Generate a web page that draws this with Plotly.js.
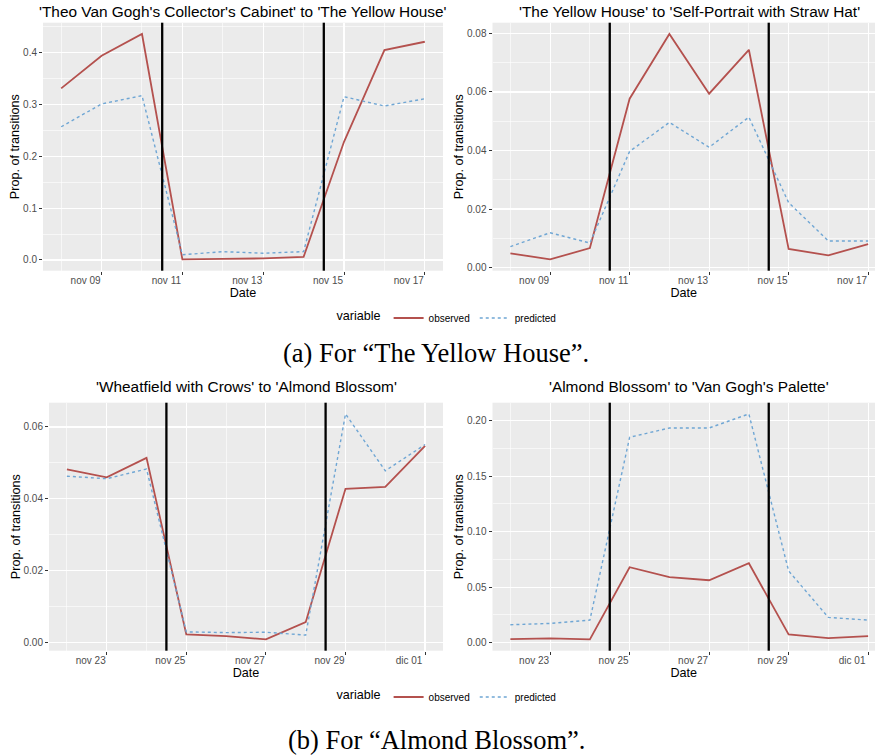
<!DOCTYPE html>
<html>
<head>
<meta charset="utf-8">
<script src="https://cdn.plot.ly/plotly-3.0.1.min.js"></script>
<style>html,body{margin:0;padding:0;background:#fff;}#chart{width:875px;height:756px;}</style>
</head>
<body>
<div id="chart"></div>
<script>
// ---------- data ----------
const datesA = ['2018-11-08','2018-11-09','2018-11-10','2018-11-11','2018-11-12','2018-11-13','2018-11-14','2018-11-15','2018-11-16','2018-11-17'];
const datesB = ['2018-11-22','2018-11-23','2018-11-24','2018-11-25','2018-11-26','2018-11-27','2018-11-28','2018-11-29','2018-11-30','2018-12-01'];

const tickValsA = ['2018-11-09','2018-11-11','2018-11-13','2018-11-15','2018-11-17'];
const tickTextA = ['nov 09','nov 11','nov 13','nov 15','nov 17'];
const tickValsB = ['2018-11-23','2018-11-25','2018-11-27','2018-11-29','2018-12-01'];
const tickTextB = ['nov 23','nov 25','nov 27','nov 29','dic 01'];

const cutsA = ['2018-11-10 12:00','2018-11-14 12:00'];
const cutsB = ['2018-11-24 12:00','2018-11-28 12:00'];

const titleA1 = "'Theo Van Gogh's Collector's Cabinet' to 'The Yellow House'";
const titleA2 = "'The Yellow House' to 'Self-Portrait with Straw Hat'";
const titleB1 = "'Wheatfield with Crows' to 'Almond Blossom'";
const titleB2 = "'Almond Blossom' to 'Van Gogh's Palette'";

const observedA1  = [0.331, 0.394, 0.436, 0.001, 0.002, 0.003, 0.006, 0.228, 0.405, 0.421];
const predictedA1 = [0.257, 0.301, 0.317, 0.010, 0.016, 0.013, 0.016, 0.315, 0.297, 0.311];

const observedA2  = [0.0049, 0.0028, 0.0067, 0.0577, 0.0798, 0.0594, 0.0744, 0.0064, 0.0042, 0.0080];
const predictedA2 = [0.0072, 0.0119, 0.0084, 0.0397, 0.0496, 0.0411, 0.0514, 0.0222, 0.0091, 0.0091];

const observedB1  = [0.0482, 0.0460, 0.0514, 0.0023, 0.0018, 0.0009, 0.0057, 0.0428, 0.0433, 0.0547];
const predictedB1 = [0.0463, 0.0456, 0.0483, 0.0030, 0.0028, 0.0029, 0.0021, 0.0636, 0.0478, 0.0551];

const observedB2  = [0.0033, 0.0039, 0.0030, 0.0680, 0.0590, 0.0563, 0.0716, 0.0075, 0.0042, 0.0060];
const predictedB2 = [0.0162, 0.0174, 0.0204, 0.1850, 0.1934, 0.1934, 0.2060, 0.0647, 0.0228, 0.0204];

const seriesNames = ['observed', 'predicted'];
const legendTitle = 'variable';
const captionA = '(a) For \u201CThe Yellow House\u201D.';
const captionB = '(b) For \u201CAlmond Blossom\u201D.';

// ---------- styling / layout helpers ----------
const W = 875, H = 756;
const OBS_COLOR = '#b4514e';
const PRED_COLOR = '#6fa6d4';
const FONT = 'Liberation Sans, Arial, Helvetica, sans-serif';
const px2x = p => p / W;
const px2y = p => 1 - p / H;

function toStr(ms){ return new Date(ms).toISOString().replace('T',' ').replace('Z',''); }
function xRange(dates, clip){
  const t0 = Date.parse(dates[0] + 'T00:00:00Z');
  const t1 = Date.parse(dates[dates.length-1] + 'T00:00:00Z');
  const pad = 0.05 * (t1 - t0);
  const lo = t0 - pad;
  let hi = t1 + pad;
  if (clip) hi = lo + (hi - lo) * clip;
  return [toStr(lo), toStr(hi)];
}
function yRange(a, b){
  const all = a.concat(b);
  const mn = Math.min.apply(null, all), mx = Math.max.apply(null, all);
  const pad = 0.05 * (mx - mn);
  return [mn - pad, mx + pad];
}

const CLIP = 382.5 / 393.5;
const panels = [
  {dates: datesA, obs: observedA1, pred: predictedA1, ticks: [tickValsA, tickTextA], cuts: cutsA, title: titleA1,
   dom: [43, 443, 22.7, 270.7], clip: null, dy: 0.1, fmt: '.1f', legend: 'legend', showLeg: true, titleY: 12},
  {dates: datesA, obs: observedA2, pred: predictedA2, ticks: [tickValsA, tickTextA], cuts: cutsA, title: titleA2,
   dom: [492.5, 875, 22.7, 270.7], clip: CLIP, dy: 0.02, fmt: '.2f', legend: 'legend', showLeg: false, titleY: 12},
  {dates: datesB, obs: observedB1, pred: predictedB1, ticks: [tickValsB, tickTextB], cuts: cutsB, title: titleB1,
   dom: [49, 443, 402.7, 650.7], clip: null, dy: 0.02, fmt: '.2f', legend: 'legend2', showLeg: true, titleY: 387},
  {dates: datesB, obs: observedB2, pred: predictedB2, ticks: [tickValsB, tickTextB], cuts: cutsB, title: titleB2,
   dom: [492.5, 875, 402.7, 650.7], clip: CLIP, dy: 0.05, fmt: '.2f', legend: 'legend2', showLeg: false, titleY: 387}
];

const traces = [];
const shapes = [];
const annotations = [];
const layout = {
  width: W, height: H,
  margin: {l: 0, r: 0, t: 0, b: 0},
  paper_bgcolor: '#ffffff',
  plot_bgcolor: '#ebebeb',
  font: {family: FONT, color: '#000'},
  showlegend: true,
  hovermode: false
};

panels.forEach((p, i) => {
  const n = i + 1;
  const xa = n === 1 ? 'x' : 'x' + n;
  const ya = n === 1 ? 'y' : 'y' + n;
  const xKey = n === 1 ? 'xaxis' : 'xaxis' + n;
  const yKey = n === 1 ? 'yaxis' : 'yaxis' + n;

  traces.push({
    type: 'scatter', mode: 'lines', x: p.dates, y: p.obs, xaxis: xa, yaxis: ya,
    name: seriesNames[0], legend: p.legend, showlegend: p.showLeg, legendgroup: p.legend + 'obs',
    line: {color: OBS_COLOR, width: 1.8}
  });
  traces.push({
    type: 'scatter', mode: 'lines', x: p.dates, y: p.pred, xaxis: xa, yaxis: ya,
    name: seriesNames[1], legend: p.legend, showlegend: p.showLeg, legendgroup: p.legend + 'pred',
    line: {color: PRED_COLOR, width: 1.4, dash: 'dot'}
  });

  layout[xKey] = {
    domain: [px2x(p.dom[0]), px2x(p.dom[1])],
    anchor: ya, type: 'date',
    range: xRange(p.dates, p.clip),
    tickmode: 'array', tickvals: p.ticks[0], ticktext: p.ticks[1],
    ticks: 'outside', ticklen: 3, tickwidth: 1, tickcolor: '#333333',
    ticklabelshift: -16, ticklabelstandoff: -3,
    tickfont: {size: 10, color: '#4d4d4d', family: FONT},
    showgrid: true, gridcolor: '#ffffff', gridwidth: 1.2,
    minor: {tickmode: 'linear', tick0: p.dates[0], dtick: 2 * 86400000, showgrid: true, gridcolor: '#ffffff', gridwidth: 0.6, ticks: ''},
    zeroline: false, showline: false, fixedrange: true,
    title: {text: 'Date', font: {size: 12.6, color: '#000', family: FONT}, standoff: 1}
  };
  layout[yKey] = {
    domain: [px2y(p.dom[3]), px2y(p.dom[2])],
    anchor: xa,
    range: yRange(p.obs, p.pred),
    tickmode: 'linear', tick0: 0, dtick: p.dy, tickformat: p.fmt,
    ticks: 'outside', ticklen: 3, tickwidth: 1, tickcolor: '#333333',
    tickfont: {size: 10, color: '#4d4d4d', family: FONT},
    showgrid: true, gridcolor: '#ffffff', gridwidth: 1.2,
    minor: {dtick: p.dy / 2, tick0: 0, showgrid: true, gridcolor: '#ffffff', gridwidth: 0.6, ticks: ''},
    zeroline: false, showline: false, fixedrange: true,
    title: {text: 'Prop. of transitions', font: {size: 12.6, color: '#000', family: FONT}, standoff: 0}
  };

  p.cuts.forEach(c => {
    shapes.push({type: 'line', xref: xa, yref: ya + ' domain', x0: c, x1: c, y0: 0, y1: 1,
      line: {color: '#000000', width: 2.3}, layer: 'above'});
  });

  annotations.push({
    xref: xa + ' domain', yref: 'paper', x: p.clip ? 0.5 / p.clip : 0.5, y: px2y(p.titleY),
    xanchor: 'center', yanchor: 'middle', showarrow: false,
    text: p.title, font: {size: 15.4, color: '#000', family: FONT}
  });
});

layout.legend = {
  orientation: 'h', x: px2x(448), y: px2y(318), xanchor: 'center', yanchor: 'middle',
  title: {text: legendTitle, side: 'left', font: {size: 12.6, color: '#000', family: FONT}},
  font: {size: 10, color: '#000', family: FONT}, itemwidth: 30, bgcolor: 'rgba(0,0,0,0)'
};
layout.legend2 = {
  orientation: 'h', x: px2x(448), y: px2y(697), xanchor: 'center', yanchor: 'middle',
  title: {text: legendTitle, side: 'left', font: {size: 12.6, color: '#000', family: FONT}},
  font: {size: 10, color: '#000', family: FONT}, itemwidth: 30, bgcolor: 'rgba(0,0,0,0)'
};

annotations.push({xref: 'paper', yref: 'paper', x: px2x(436), y: px2y(353), xanchor: 'center', yanchor: 'middle',
  showarrow: false, text: captionA, font: {size: 26.5, color: '#000', family: 'Liberation Serif, Times New Roman, serif'}});
annotations.push({xref: 'paper', yref: 'paper', x: px2x(436), y: px2y(740), xanchor: 'center', yanchor: 'middle',
  showarrow: false, text: captionB, font: {size: 26.5, color: '#000', family: 'Liberation Serif, Times New Roman, serif'}});

layout.shapes = shapes;
layout.annotations = annotations;

Plotly.newPlot('chart', traces, layout, {staticPlot: true, displayModeBar: false});
</script>
</body>
</html>
